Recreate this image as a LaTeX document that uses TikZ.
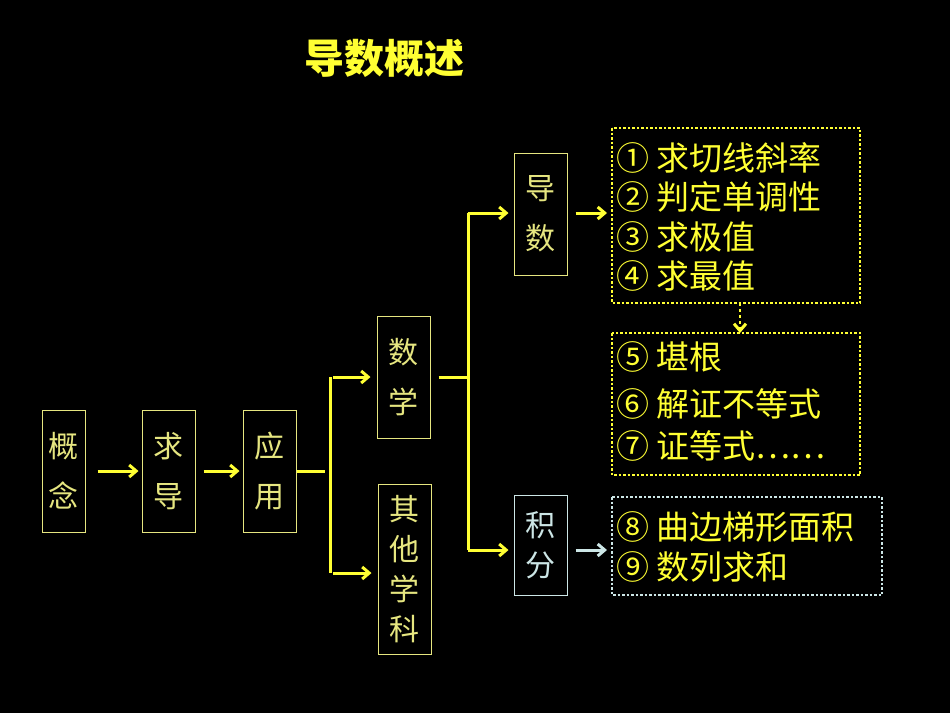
\documentclass[tikz,border=0pt]{standalone}
\usepackage{fontspec}
\setmainfont{Noto Sans CJK SC}
\usetikzlibrary{arrows.meta}
\definecolor{by}{HTML}{FFFF33}
\definecolor{py}{HTML}{E6E680}
\definecolor{lb}{HTML}{CCE6E6}
\begin{document}
\begin{tikzpicture}[x=1pt,y=-1pt,
 vbox/.style={draw=py,line width=1pt,font=\fontsize{30}{40}\selectfont,text=py,inner sep=0pt},
 conn/.style={draw=by,line width=3pt},
 arr/.style={conn,-{Straight Barb[length=7pt,width=12pt,line width=3pt]}},
 dbox/.style={draw=by,line width=2.5pt,dotted},
 item/.style={anchor=west,text=by,font=\fontsize{33}{33}\selectfont,inner sep=0pt}]
\fill[black] (0,0) rectangle (950,713);
\node[text=by,font=\fontsize{40}{40}\selectfont\bfseries] (title) at (384,58) {导数概述};
\node[vbox,minimum width=43pt,minimum height=122pt,align=center] (gn) at (63.5,471) {概\\[10pt]念};
\node[vbox,minimum width=53pt,minimum height=122pt,align=center] (qd) at (168.5,471) {求\\[10pt]导};
\node[vbox,minimum width=53pt,minimum height=122pt,align=center] (yy) at (269.5,471) {应\\[10pt]用};
\node[vbox,minimum width=53pt,minimum height=122pt,align=center] (sx) at (403.5,377) {数\\[10pt]学};
\node[vbox,minimum width=53pt,minimum height=170pt,align=center] (qt) at (404.5,569) {其\\他\\学\\科};
\node[vbox,minimum width=53pt,minimum height=122pt,align=center] (ds) at (540.5,214) {导\\[10pt]数};
\node[vbox,draw=lb,text=lb,minimum width=53pt,minimum height=100pt,align=center] (jf) at (540.5,545) {积\\分};
\draw[dbox] (612,128) rectangle (860,303);
\coordinate (aw) at (612,213);
\coordinate (ab) at (740,303);
\draw[dbox] (612,333) rectangle (860,475);
\coordinate (bt) at (740,333);
\draw[dbox,draw=lb] (612,497) rectangle (882,595);
\coordinate (cw) at (612,550);
\node[item] (i1) at (616,158) {① 求切线斜率};
\node[item] (i2) at (616,197) {② 判定单调性};
\node[item] (i3) at (616,237) {③ 求极值};
\node[item] (i4) at (616,276) {④ 求最值};
\node[item] (i5) at (616,357) {⑤ 堪根};
\node[item] (i6) at (616,404) {⑥ 解证不等式};
\node[item] (i7) at (616,446) {⑦ 证等式⋯⋯};
\node[item] (i8) at (616,527) {⑧ 曲边梯形面积};
\node[item] (i9) at (616,567) {⑨ 数列求和};
\draw[arr] ([xshift=12pt]gn.east) -- ([xshift=-3pt]qd.west);
\draw[arr] ([xshift=8pt]qd.east) -- ([xshift=-3pt]yy.west);
\draw[conn] (yy.east) -- (325,471);
\draw[conn] (330,377) -- (330,573);
\draw[arr] (333,377) -- ([xshift=-6pt]sx.west);
\draw[arr] (333,573) -- ([xshift=-6pt]qt.west|-0,573);
\draw[conn] ([xshift=8pt]sx.east) -- (468,377);
\draw[conn] (468,213) -- (468,550);
\draw[arr] (468,213) -- ([xshift=-5pt]ds.west|-0,213);
\draw[arr] (468,550) -- ([xshift=-5pt]jf.west|-0,550);
\draw[arr] ([xshift=8pt]ds.east|-0,213) -- ([xshift=-5pt]aw);
\draw[arr,draw=lb] ([xshift=8pt]jf.east|-0,550) -- ([xshift=-5pt]cw);
\draw[arr,dashed,line width=2pt] (ab) -- (bt);
\end{tikzpicture}
\end{document}
